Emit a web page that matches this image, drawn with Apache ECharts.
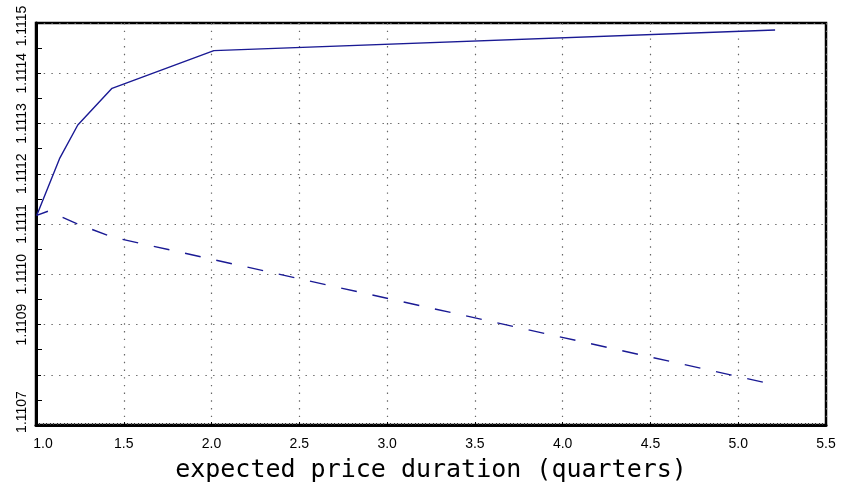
<!DOCTYPE html>
<html>
<head>
<meta charset="utf-8">
<script src="https://cdn.jsdelivr.net/npm/echarts@6/dist/echarts.min.js"></script>
<style>
  html, body { margin: 0; padding: 0; background: #ffffff; }
  #chart { width: 851px; height: 496px; }
</style>
</head>
<body>
<div id="chart"></div>
<script>
// Expected price duration (quarters) on the horizontal axis
const solidX = [1.004, 1.134, 1.238, 1.433, 2.013, 5.21];
const solidY = [1.111117, 1.11123, 1.111297, 1.11137, 1.111445, 1.111486];

const dashedX = [1.004, 1.07, 1.134, 1.238, 1.433, 2.013, 5.21];
const dashedY = [1.111117, 1.1111257, 1.111116, 1.1111, 1.111074, 1.111029, 1.11078];

const xTicks = { min: 1.0, max: 5.5, step: 0.5 };
const yTicks = { min: 1.1107, max: 1.1115, step: 0.0001 };
const hiddenYLabels = ['1.1108'];

const lineColor = '#1a1a94';

function pairs(xs, ys) {
  return xs.map((x, i) => [x, ys[i]]);
}

const chart = echarts.init(document.getElementById('chart'), null, { renderer: 'canvas' });

const dotted = { color: '#666666', width: 1.2, type: [1.4, 6.3] };
const labelFont = { fontFamily: 'Liberation Sans', fontSize: 14, color: '#000000' };

chart.setOption({
  animation: false,
  backgroundColor: '#ffffff',
  grid: {
    left: 36, right: 25, top: 23, bottom: 71,
    show: true, borderColor: '#000000', borderWidth: 2.5, backgroundColor: 'transparent'
  },
  xAxis: {
    type: 'value',
    min: xTicks.min, max: xTicks.max, interval: xTicks.step,
    name: 'expected price duration (quarters)',
    nameLocation: 'middle', nameGap: 33,
    nameTextStyle: { fontFamily: 'DejaVu Sans Mono', fontSize: 25, color: '#000000' },
    axisLine: { show: true, onZero: false, lineStyle: { color: '#000000', width: 3 } },
    axisTick: { show: true, inside: true, length: 3, lineStyle: { color: '#000000' } },
    minorTick: { show: true, splitNumber: 25, length: 2, lineStyle: { color: '#333333', width: 1 } },
    splitLine: { show: true, lineStyle: dotted },
    axisLabel: Object.assign({
      margin: 12,
      formatter: v => {
        const s = v.toFixed(1);
        return v === xTicks.min ? '{first|' + s + '}' : s;
      },
      rich: { first: Object.assign({ padding: [0, 0, 0, 14] }, labelFont) }
    }, labelFont)
  },
  yAxis: {
    type: 'value',
    min: yTicks.min, max: yTicks.max, interval: yTicks.step,
    axisLine: { show: true, onZero: false, lineStyle: { color: '#000000', width: 3 } },
    axisTick: { show: true, inside: true, length: 5, lineStyle: { color: '#000000' } },
    minorTick: { show: true, splitNumber: 2, length: 6, lineStyle: { color: '#000000', width: 1 } },
    splitLine: { show: true, lineStyle: dotted },
    axisLabel: Object.assign({
      rotate: 90, margin: 7,
      showMinLabel: true, showMaxLabel: true, hideOverlap: false,
      formatter: v => {
        const s = v.toFixed(4);
        if (hiddenYLabels.includes(s)) return '';
        if (s === yTicks.min.toFixed(4)) return '{low|' + s + '}';
        if (s === yTicks.max.toFixed(4)) return '{high|' + s + '}';
        return s;
      },
      rich: {
        low: Object.assign({ padding: [0, 0, 0, 26] }, labelFont),
        high: Object.assign({ padding: [0, 6, 0, 0] }, labelFont)
      }
    }, labelFont)
  },
  series: [
    {
      type: 'line', data: pairs(solidX, solidY), showSymbol: false, symbol: 'none',
      lineStyle: { color: lineColor, width: 1.4 }
    },
    {
      type: 'line', data: pairs(dashedX, dashedY), showSymbol: false, symbol: 'none',
      lineStyle: { color: lineColor, width: 1.4, type: [16, 16], dashOffset: 4 }
    }
  ]
});
</script>
</body>
</html>
